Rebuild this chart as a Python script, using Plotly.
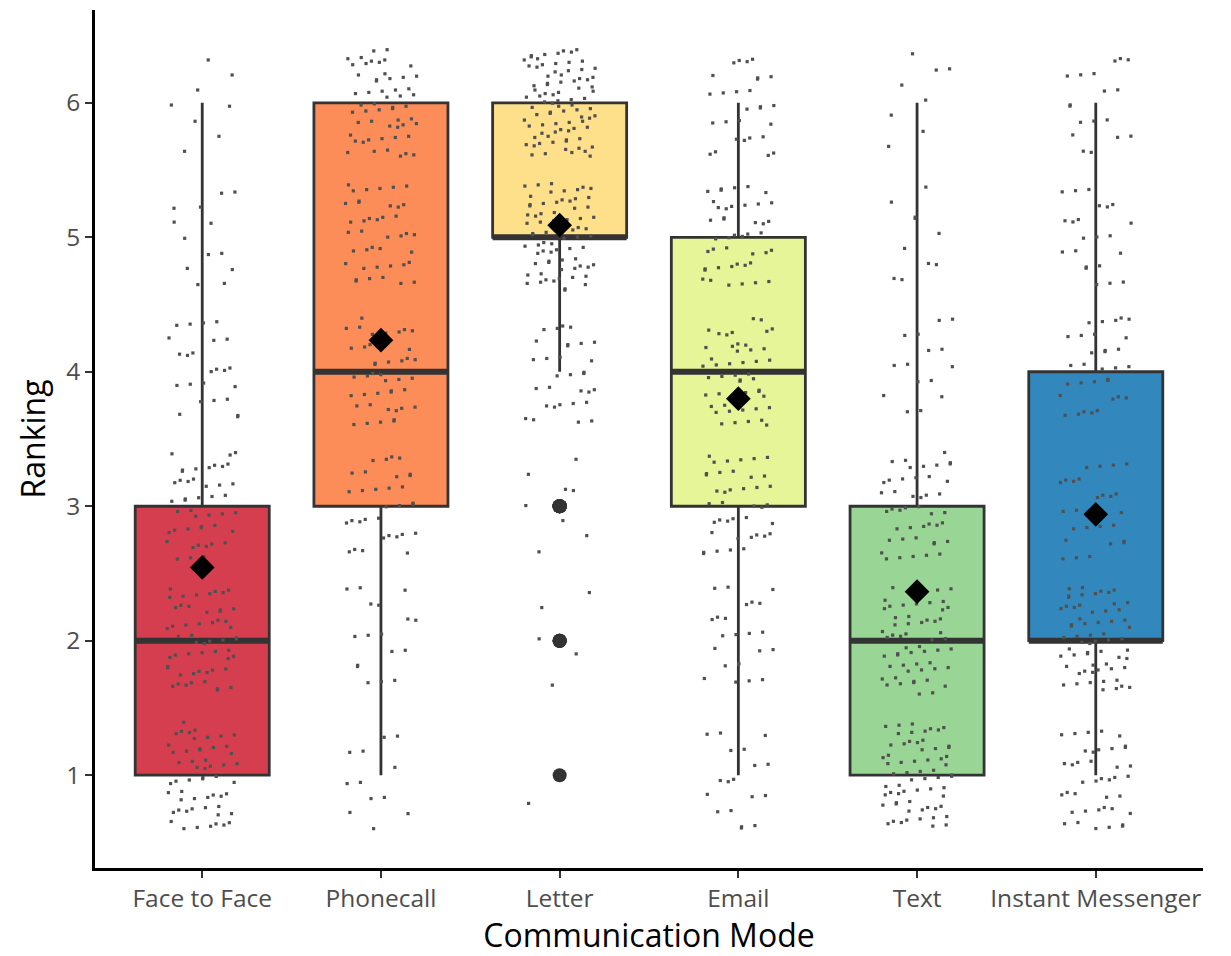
import numpy as np
import plotly.graph_objects as go

# Communication modes (x categories) and their fill colours (Spectral palette)
modes = ["Face to Face", "Phonecall", "Letter", "Email", "Text", "Instant Messenger"]
colors = ["#D53E4F", "#FC8D59", "#FEE08B", "#E6F598", "#99D594", "#3288BD"]

# Number of respondents giving each rank (1..6) to each mode
ranks = [1, 2, 3, 4, 5, 6]
face_to_face = [55, 55, 45, 24, 13, 8]
phonecall = [12, 17, 32, 44, 41, 54]
letter = [1, 5, 8, 31, 71, 84]
email = [18, 23, 40, 47, 44, 28]
text = [64, 58, 45, 15, 10, 8]
instant_messenger = [40, 62, 26, 32, 22, 18]

counts = [face_to_face, phonecall, letter, email, text, instant_messenger]

# Jitter extents (data units)
JITTER_W = 0.2
JITTER_H = 0.4
BOX_W = 0.75

fig = go.Figure()

samples = []
for i, (mode, col, cnt) in enumerate(zip(modes, colors, counts)):
    y = np.repeat(ranks, cnt).astype(float)
    samples.append(y)
    pos = i + 1
    fig.add_trace(go.Box(
        x=[pos] * len(y), y=y, name=mode,
        width=BOX_W, whiskerwidth=0,
        fillcolor=col,
        line=dict(color="#333333", width=2.8),
        boxpoints="outliers", jitter=0, pointpos=0,
        marker=dict(color="#333333", size=14, line=dict(width=0)),
        showlegend=False, hoverinfo="skip",
    ))

# Thicker median bars
for i, y in enumerate(samples):
    pos = i + 1
    med = float(np.median(y))
    fig.add_trace(go.Scatter(
        x=[pos - BOX_W / 2, pos + BOX_W / 2], y=[med, med], mode="lines",
        line=dict(color="#333333", width=6), showlegend=False, hoverinfo="skip",
    ))

# Jittered individual responses (low-discrepancy offsets for an even spread)
a1, a2 = 0.7548776662466927, 0.5698402909980532
for i, y in enumerate(samples):
    pos = i + 1
    k = np.arange(1, len(y) + 1) + 37 * i
    u = (0.5 + a1 * k) % 1.0
    v = (0.5 + a2 * k) % 1.0
    order = np.argsort(((0.31 + 0.6180339887 * k) % 1.0))
    jx = pos + (2 * u[order] - 1) * JITTER_W
    jy = y + (2 * v - 1) * JITTER_H
    fig.add_trace(go.Scatter(
        x=jx, y=jy, mode="markers",
        marker=dict(symbol="square", size=3.2, color="#505050", line=dict(width=0)),
        showlegend=False, hoverinfo="skip",
    ))

# Mean markers
means = [float(np.mean(y)) for y in samples]
fig.add_trace(go.Scatter(
    x=list(range(1, len(modes) + 1)), y=means, mode="markers",
    marker=dict(symbol="diamond", size=19, color="black", line=dict(width=0)),
    showlegend=False, hoverinfo="skip",
))

font_family = "Open Sans, Noto Sans, sans-serif"
fig.update_layout(
    width=1231, height=956,
    margin=dict(l=95, r=28, t=10, b=88),
    paper_bgcolor="white", plot_bgcolor="white",
    boxmode="overlay",
    font=dict(family=font_family, color="#4D4D4D"),
    xaxis=dict(
        range=[0.4, 6.6], tickmode="array",
        tickvals=list(range(1, len(modes) + 1)), ticktext=modes,
        showgrid=False, zeroline=False,
        showline=True, linecolor="black", linewidth=2.6,
        ticks="outside", ticklen=7, tickwidth=2.2, tickcolor="#333333",
        tickfont=dict(size=24.5, color="#4D4D4D"),
        title=dict(text="Communication Mode", font=dict(size=32, color="black"), standoff=6),
    ),
    yaxis=dict(
        range=[0.31, 6.69], tickmode="array", tickvals=[1, 2, 3, 4, 5, 6],
        showgrid=False, zeroline=False,
        showline=True, linecolor="black", linewidth=2.6,
        ticks="outside", ticklen=7, tickwidth=2.2, tickcolor="#333333",
        tickfont=dict(size=24.5, color="#4D4D4D"),
        title=dict(text="Ranking", font=dict(size=32, color="black"), standoff=12),
    ),
)

fig.write_html("out.html")
